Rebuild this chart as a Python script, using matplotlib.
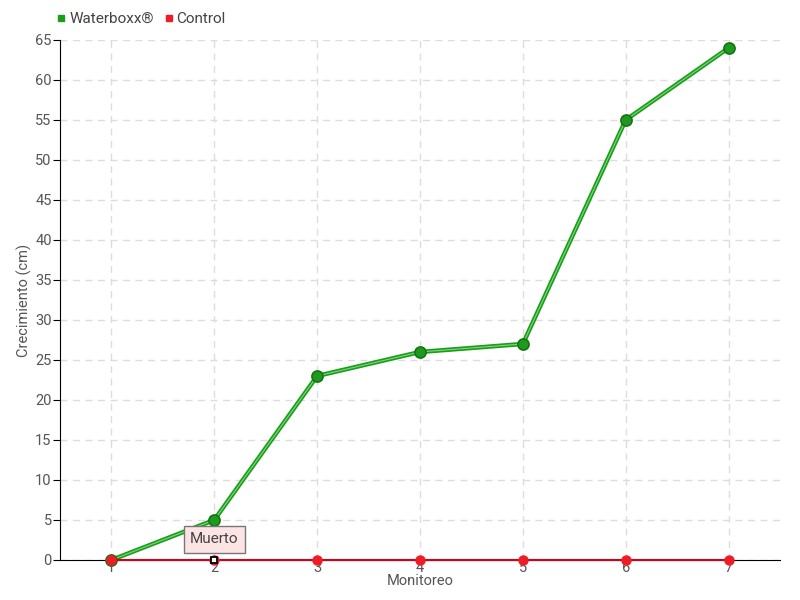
import matplotlib
matplotlib.use("Agg")
import matplotlib.pyplot as plt
from matplotlib import font_manager
from matplotlib.lines import Line2D

names = {f.name for f in font_manager.fontManager.ttflist}
fam = 'Liberation Sans Narrow' if 'Liberation Sans Narrow' in names else 'Roboto'
plt.rcParams['font.family'] = [fam, 'DejaVu Sans']

monitoreo = [1, 2, 3, 4, 5, 6, 7]
waterboxx = [0, 5, 23, 26, 27, 55, 64]
control = [0, 0, 0, 0, 0, 0, 0]
y_ticks = list(range(0, 70, 5))
tooltip_text = "Muerto"

fig = plt.figure(figsize=(8, 6), dpi=100)
ax = fig.add_axes([0.075, 0.0667, 0.9, 0.8667])

ax.plot(monitoreo, waterboxx, color='#1a9e1a', lw=3.2, zorder=3, solid_capstyle='round', clip_on=False)
ax.plot(monitoreo, waterboxx, color='#7fd67f', lw=0.8, zorder=3.1, clip_on=False)
ax.plot(monitoreo, waterboxx, 'o', ms=8, mfc='#1f9a1f', mec='#137513', mew=1.2, zorder=4, clip_on=False)

ax.plot(monitoreo, control, color='#d0021b', lw=1.5, zorder=5, clip_on=False)
ax.plot(monitoreo, control, 'o', ms=6.5, mfc='#ee1c25', mec='#ee1c25', zorder=6, clip_on=False)
ax.plot([monitoreo[1]], [control[1]], 's', ms=4, mfc='white', mec='black', mew=1.3, zorder=7, clip_on=False)

ax.set_xlim(0.5, 7.5)
ax.set_ylim(0, 65)
ax.set_xticks(monitoreo)
ax.set_xticklabels([str(m) for m in monitoreo])
ax.set_yticks(y_ticks)
ax.grid(True, color='#dddddd', linestyle=(0, (5, 4)), lw=1)
ax.set_axisbelow(True)
for s in ['top', 'right']:
    ax.spines[s].set_visible(False)
ax.spines['left'].set_color('black')
ax.spines['bottom'].set_color('black')
ax.spines['bottom'].set_zorder(2)
ax.tick_params(axis='y', length=5, color='black', labelcolor='#555555', labelsize=10.5, pad=1)
ax.tick_params(axis='x', length=0, labelcolor='#555555', labelsize=10.5, pad=1)
ax.set_xlabel('Monitoreo', color='#555555', fontsize=10.5, labelpad=-1)
ax.set_ylabel('Crecimiento (cm)', color='#555555', fontsize=10.5, labelpad=2)

ax.annotate(tooltip_text, xy=(monitoreo[1], control[1]), xytext=(0, 15), textcoords='offset points',
            ha='center', va='center', fontsize=11, color='#444444',
            bbox=dict(boxstyle='square,pad=0.42', fc='#fde4e4', ec='#777777', lw=1),
            zorder=10)

handles = [Line2D([], [], marker='s', ls='', ms=5, color='#1a9e1a'),
           Line2D([], [], marker='s', ls='', ms=5, color='#ee1c25')]
fig.legend(handles, ['Waterboxx®', 'Control'], loc='upper left', bbox_to_anchor=(0.052, 1.003),
           ncol=2, frameon=False, fontsize=11, labelcolor='#444444', handletextpad=0.1,
           columnspacing=0.6, handlelength=0.8)

fig.savefig('out.png', dpi=100)
